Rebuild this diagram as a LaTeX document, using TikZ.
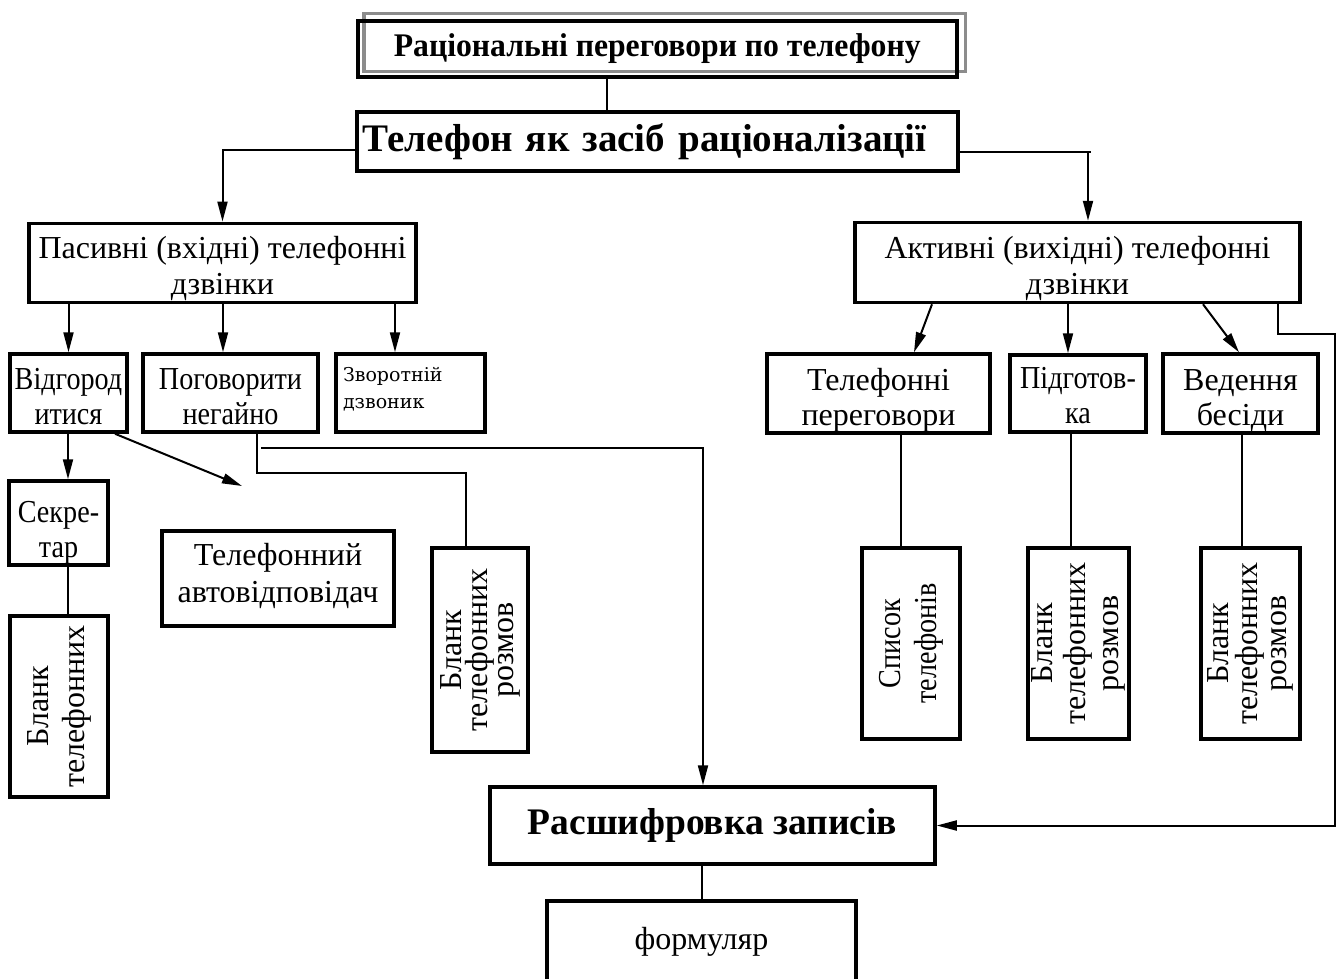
\documentclass[tikz,border=0pt]{standalone}
\usepackage{fontspec}
\setmainfont{Liberation Serif}
\newfontfamily\condf[FakeStretch=0.88]{Liberation Serif}
\newfontfamily\titlef[FakeStretch=0.96]{Liberation Serif}
\newfontfamily\smallf{DejaVu Serif}
\newcommand\ta[1]{\rule{0pt}{#1pt}}
\newcommand\tb[1]{\rule[-#1pt]{0pt}{#1pt}}
\usetikzlibrary{arrows.meta}
\begin{document}
\begin{tikzpicture}[x=1pt,y=-1pt,
  box/.style={draw, line width=3.5pt, rectangle, inner sep=0pt, align=center},
  reg/.style={font=\fontsize{32}{36}\selectfont},
  cnd/.style={font=\condf\fontsize{32}{35}\selectfont},
  arr/.style={line width=2pt, -{Triangle[length=20pt,width=10pt]}},
  ln/.style={line width=1.6pt}]
\useasboundingbox (0,0) rectangle (1339,978);
% title
\draw[black!45, line width=3.8pt] (364,13.5) rectangle (965.5,71.5);
\node[box, line width=4pt, minimum width=599.5pt, minimum height=56pt, font=\titlef\bfseries\fontsize{33}{36}\selectfont] (title) at (657.25,48.5) {Раціональні переговори по телефону};
\node[box, minimum width=601pt, minimum height=59pt, text width=590pt, align=left, font=\bfseries\fontsize{39}{42}\selectfont] (tel) at (657.5,141.5) {Телефон як засіб раціоналізації};
\node[box, reg, minimum width=387pt, minimum height=76pt] (pas) at (222.5,263) {\ta{35.4}Пасивні (вхідні) телефонні\\дзвінки\tb{8}};
\node[box, reg, minimum width=445pt, minimum height=75pt] (act) at (1077.5,262.5) {\ta{36}Активні (вихідні) телефонні\\дзвінки\tb{8}};
% passive branch
\node[box, cnd, minimum width=117pt, minimum height=78pt] (vid) at (68.5,393) {\ta{35}Відгород\\итися\tb{8}};
\node[box, cnd, minimum width=175pt, minimum height=78pt] (pog) at (230.5,393) {\ta{35}Поговорити\\негайно\tb{8}};
\node[box, minimum width=149pt, minimum height=78pt, align=left, text width=135pt, font=\smallf\fontsize{19}{27}\selectfont] (zvo) at (410.5,393) {Зворотній\\дзвоник\tb{10}};
\node[box, cnd, minimum width=99pt, minimum height=78pt] (sek) at (58.5,523) {\ta{41}Секре-\\тар\tb{8}};
\node[box, rotate=90, minimum width=181pt, minimum height=98pt, font=\fontsize{32}{36}\selectfont] (bl1) at (59,706.5) {Бланк\\телефонних};
\node[box, minimum width=232pt, minimum height=95pt, font=\fontsize{32}{37}\selectfont] (avt) at (278,578.5) {\ta{23}Телефонний\\автовідповідач\tb{13}};
\node[box, rotate=90, minimum width=204pt, minimum height=96pt, font=\fontsize{32}{26}\selectfont] (bl2) at (480,650) {Бланк\\телефонних\\розмов};
% bottom
\node[box, minimum width=445pt, minimum height=77pt, font=\bfseries\fontsize{37.5}{40}\selectfont] (ras) at (712.5,825.5) {Расшифровка записів};
\node[box, reg, minimum width=309pt, minimum height=82pt] (form) at (701.5,942) {формуляр};
% active branch
\node[box, reg, minimum width=223pt, minimum height=77pt, font=\fontsize{32}{35}\selectfont] (tp) at (878.5,393.5) {\ta{36}Телефонні\\переговори\tb{8}};
\node[box, cnd, minimum width=136pt, minimum height=77pt] (pid) at (1078,393.5) {\ta{33}Підготов-\\ка\tb{8}};
\node[box, reg, minimum width=155pt, minimum height=77pt, font=\fontsize{32}{35}\selectfont] (ved) at (1240.5,393.5) {\ta{36}Ведення\\бесіди\tb{8}};
\node[box, rotate=90, minimum width=191pt, minimum height=98pt, font=\condf\fontsize{32}{36}\selectfont] (spis) at (911,643.5) {Список\\телефонів};
\node[box, rotate=90, minimum width=191pt, minimum height=101pt, font=\fontsize{32}{33}\selectfont] (bl3) at (1078.5,643.5) {Бланк\\телефонних\\розмов};
\node[box, rotate=90, minimum width=191pt, minimum height=99pt, font=\fontsize{32}{29}\selectfont] (bl4) at (1250.5,643.5) {Бланк\\телефонних\\розмов};
% coordinates
\coordinate (c607) at (607,0);
\coordinate (lc) at (222.5,150);
\coordinate (rc) at (1088,152);
\coordinate (x223) at (223,0);
\coordinate (x395) at (395,0);
\coordinate (x68) at (68,0);
\coordinate (dg) at (242,486);
\coordinate (k1) at (257,473);
\coordinate (k2) at (466,473);
\coordinate (k3) at (261,448);
\coordinate (k4) at (703,448);
\coordinate (x702) at (702,0);
\coordinate (m1) at (1278,334);
\coordinate (m2) at (1335,334);
\coordinate (x901) at (901,0);
\coordinate (x1071) at (1071,0);
\coordinate (x1242) at (1242,0);
% connectors
\draw[ln] (c607 |- title.south) -- (c607 |- tel.north);
\draw[arr] (tel.west |- lc) -| (pas.north);
\draw[ln] (tel.east |- rc) -- ([xshift=3pt]rc);
\draw[arr] (rc) -- (rc |- act.north);
\draw[arr] (vid.north |- pas.south) -- (vid.north);
\draw[arr] (x223 |- pas.south) -- (x223 |- pog.north);
\draw[arr] (x395 |- pas.south) -- (x395 |- zvo.north);
\draw[arr] (x68 |- vid.south) -- (x68 |- sek.north);
\draw[ln] (x68 |- sek.south) -- (x68 |- bl1.east);
\draw[arr] ([xshift=46.5pt]vid.south) -- (dg);
\draw[ln] (k1 |- pog.south) -- (k1) -- (k2) -- (k2 |- bl2.east);
\draw[arr] (k3) -- (k4) -- (k4 |- ras.north);
\draw[ln] (x702 |- ras.south) -- (x702 |- form.north);
\draw[arr] ([xshift=-145.5pt]act.south) -- ([xshift=35.5pt]tp.north);
\draw[arr] ([xshift=-9.5pt]act.south) -- ([xshift=-10pt]pid.north);
\draw[arr] ([xshift=125.5pt]act.south) -- ([xshift=-1.5pt]ved.north);
\draw[arr] (m1 |- act.south) -- (m1) -- (m2) -- (m2 |- ras.east) -- (ras.east);
\draw[ln] (x901 |- tp.south) -- (x901 |- spis.east);
\draw[ln] (x1071 |- pid.south) -- (x1071 |- bl3.east);
\draw[ln] (x1242 |- ved.south) -- (x1242 |- bl4.east);
\end{tikzpicture}
\end{document}
